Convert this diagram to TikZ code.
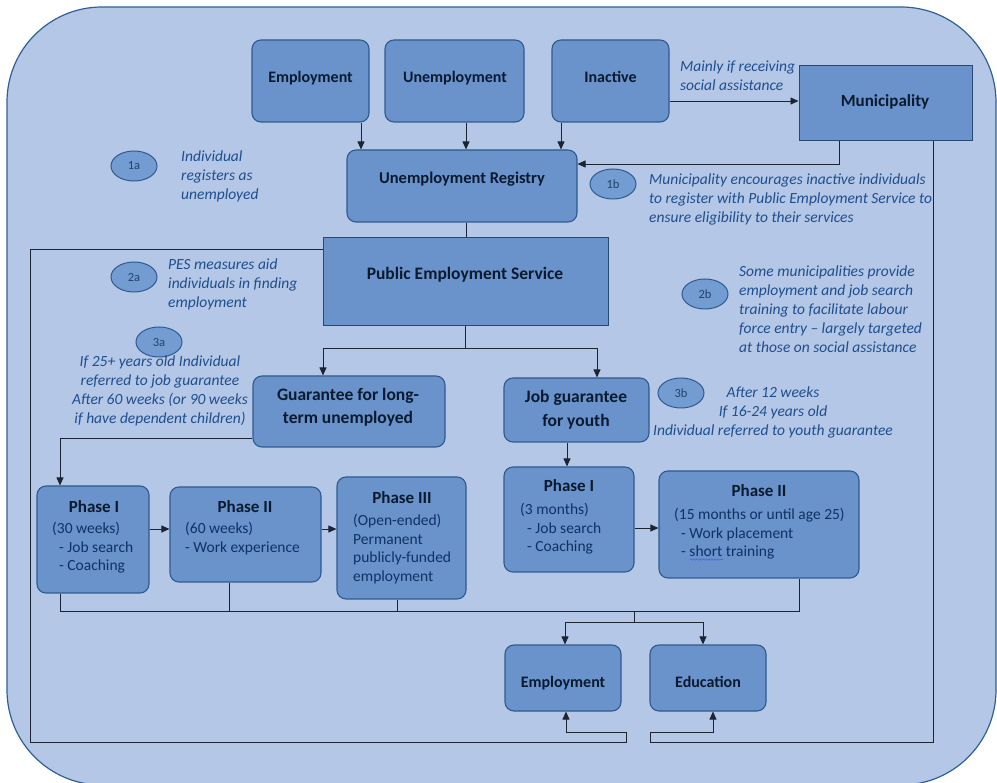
\documentclass[tikz,border=0pt]{standalone}
\usepackage{fontspec}
\setmainfont{Carlito}
\usetikzlibrary{arrows.meta,shapes.geometric,decorations.pathmorphing}
\definecolor{bgc}{HTML}{B4C7E7}
\definecolor{outc}{HTML}{2E6097}
\definecolor{boxc}{HTML}{6A93CB}
\definecolor{bordc}{HTML}{2F5A8E}
\definecolor{badgec}{HTML}{739CD3}
\definecolor{notec}{HTML}{1F4E8C}
\definecolor{bodyc}{HTML}{0F3266}
\definecolor{titlec}{HTML}{0A1A30}
\definecolor{linec}{HTML}{1C2433}
\begin{document}
\begin{tikzpicture}[x=1pt,y=-1pt,
  rbox/.style={draw=bordc, fill=boxc, line width=1.1pt, rounded corners=9pt, inner sep=0pt},
  sbox/.style={draw=bordc!80!black, fill=boxc, line width=1pt, inner sep=0pt},
  badge/.style={ellipse, draw=bordc, fill=badgec, line width=1pt, minimum width=46pt, minimum height=30pt, inner sep=0pt, font=\fontsize{12.5}{14}\selectfont, text=bordc!75!black},
  note/.style={inner sep=0pt, text=notec, font=\fontsize{15.5}{19}\selectfont\itshape},
  title/.style={inner sep=0pt, text=titlec, font=\fontsize{17}{23}\selectfont\bfseries, anchor=base},
  stitle/.style={title, font=\fontsize{16}{23}\selectfont\bfseries},
  btitle/.style={title, font=\fontsize{17.5}{23}\selectfont\bfseries},
  body/.style={inner sep=0pt, text=bodyc, font=\fontsize{15.5}{18.8}\selectfont, align=left, anchor=north west},
  conn/.style={draw=linec, line width=0.9pt},
  arr/.style={conn, -{Triangle[length=8pt,width=7pt]}}]
\useasboundingbox (0,0) rectangle (997,783);
\begin{scope}
\clip (0,0) rectangle (997,783);
\draw[fill=bgc, draw=outc, line width=1.2pt, rounded corners=95pt] (7,7) rectangle (996,785);
\end{scope}

% boxes
\node[rbox, minimum width=117pt, minimum height=82pt] (emp) at (310.5,81) {};
\node[rbox, minimum width=139pt, minimum height=82pt] (unemp) at (454.5,81) {};
\node[rbox, minimum width=117pt, minimum height=82pt] (inact) at (610.5,81) {};
\node[sbox, minimum width=173pt, minimum height=75pt] (muni) at (885.5,103.5) {};
\node[rbox, minimum width=230pt, minimum height=72pt] (reg) at (462,186) {};
\node[sbox, minimum width=285pt, minimum height=88pt] (pes) at (465.5,282) {};
\node[rbox, minimum width=192pt, minimum height=71pt] (glt) at (349,411.5) {};
\node[rbox, minimum width=145pt, minimum height=64pt] (jgy) at (576.5,410) {};
\node[rbox, minimum width=112pt, minimum height=107pt] (p1) at (93,539.5) {};
\node[rbox, minimum width=151pt, minimum height=95pt] (p2) at (245.5,534.5) {};
\node[rbox, minimum width=129pt, minimum height=122pt] (p3) at (401.5,538) {};
\node[rbox, minimum width=130pt, minimum height=105pt] (y1) at (569,519.5) {};
\node[rbox, minimum width=200pt, minimum height=107pt] (y2) at (759,524.5) {};
\node[rbox, minimum width=116pt, minimum height=66pt] (oemp) at (563,678) {};
\node[rbox, minimum width=116pt, minimum height=66pt] (oedu) at (708,678) {};

% titles
\node[stitle] (temp) at (310.5,83) {Employment};
\node[stitle] (tunemp) at (455,83) {Unemployment};
\node[stitle] (tinact) at (610.5,83) {Inactive};
\node[title] (tmuni) at (885,107) {Municipality};
\node[title, font=\fontsize{16.5}{23}\selectfont\bfseries] (treg) at (462,184) {Unemployment Registry};
\node[btitle] (tpes) at (465,280) {Public Employment Service};
\node[btitle] (tglt1) at (348,401) {Guarantee for long-};
\node[btitle] (tglt2) at (348,424) {term unemployed};
\node[btitle] (tjgy1) at (576,403) {Job guarantee};
\node[btitle] (tjgy2) at (576,427) {for youth};
\node[title] (tp1) at (94,513) {Phase I};
\node[title] (tp2) at (245,513) {Phase II};
\node[title] (tp3) at (402,504) {Phase III};
\node[title] (ty1) at (569,492) {Phase I};
\node[title] (ty2) at (759,497) {Phase II};
\node[stitle] (toemp) at (563,687) {Employment};
\node[stitle] (toedu) at (708,687) {Education};

% body texts
\node[body] (bp1) at (52,520) {\strut(30 weeks)\\\hspace*{7pt}- Job search\\\hspace*{7pt}- Coaching};
\node[body] (bp2) at (185,520) {\strut(60 weeks)\\- Work experience};
\node[body] (bp3) at (353,512) {\strut(Open-ended)\\Permanent\\publicly-funded\\employment};
\node[body] (by1) at (520,501) {\strut(3 months)\\\hspace*{7pt}- Job search\\\hspace*{7pt}- Coaching};
\node[body] (by2) at (674,506) {\strut(15 months or until age 25)\\\hspace*{7pt}- Work placement\\\hspace*{7pt}- short training};
\draw[decorate, decoration={snake, amplitude=0.7pt, segment length=3pt}, draw=blue!55!bgc, line width=0.6pt] (690,559.5) -- (723,559.5);

% badges
\node[badge] (b1a) at (134,166) {1a};
\node[badge] (b2a) at (134,277) {2a};
\node[badge] (b3a) at (159,342) {3a};
\node[badge] (b1b) at (613,184) {1b};
\node[badge] (b2b) at (705,294) {2b};
\node[badge] (b3b) at (681,393) {3b};

% notes
\node[note, anchor=north west, align=left] (n1a) at (181,148) {\strut Individual\\registers as\\unemployed};
\node[note, anchor=north west, align=left] (n2a) at (168,256) {\strut PES measures aid\\individuals in finding\\employment};
\node[note, anchor=north, align=center] (n3a) at (160,353) {\strut If 25+ years old Individual\\referred to job guarantee\\After 60 weeks (or 90 weeks\\if have dependent children)};
\node[note, anchor=north west, align=left] (n1b) at (649,171) {\strut Municipality encourages inactive individuals\\to register with Public Employment Service to\\ensure eligibility to their services};
\node[note, anchor=north west, align=left] (n2b) at (739,263) {\strut Some municipalities provide\\employment and job search\\training to facilitate labour\\force entry -- largely targeted\\at those on social assistance};
\node[note, anchor=north, align=center] (n3b) at (773,384) {\strut After 12 weeks\\If 16-24 years old\\Individual referred to youth guarantee};
\node[note, anchor=north west, align=left] (nmain) at (680,58) {\strut Mainly if receiving\\social assistance};

% connectors
\draw[arr] ([xshift=50.5pt]emp.south) -- ([xshift=50.5pt]emp.south |- reg.north);
\draw[arr] ([xshift=11.5pt]unemp.south) -- ([xshift=11.5pt]unemp.south |- reg.north);
\draw[arr] ([xshift=-49.5pt]inact.south) -- ([xshift=-49.5pt]inact.south |- reg.north);
\draw[arr] ([yshift=-20pt]inact.east) -- ([yshift=-20pt]inact.east -| muni.west);
\draw[arr] ([xshift=-46.5pt]muni.south) |- ([yshift=22pt]reg.east);
\draw[conn] ([xshift=4pt]reg.south) -- ([xshift=4pt]reg.south |- pes.north);
\draw[arr] (pes.south) -- ++(0,22) -| ([xshift=-26pt]glt.north);
\draw[arr] (pes.south) -- ++(0,22) -| ([xshift=20.5pt]jgy.north);
\draw[arr] ([yshift=-26.5pt]glt.west) -| ([xshift=-33pt]p1.north);
\draw[arr] ([yshift=10.5pt]p1.east) -- ([yshift=10.5pt]p1.east -| p2.west);
\draw[arr] ([yshift=5.5pt]p2.east) -- ([yshift=5.5pt]p2.east -| p3.west);
\draw[arr] ([xshift=-9.5pt]jgy.south) -- ([xshift=-9.5pt]jgy.south |- y1.north);
\draw[arr] ([yshift=-8.5pt]y1.east) -- ([yshift=-8.5pt]y1.east -| y2.west);
% collector
\draw[conn] ([xshift=-33pt]p1.south) -- (60,611) -- (799,611) -- ([xshift=40pt]y2.south);
\draw[conn] ([xshift=-16.5pt]p2.south) -- (229,611);
\draw[conn] ([xshift=-4.5pt]p3.south) -- (397,611);
\draw[arr] (634,611) -- (634,622) -| ([xshift=2pt]oemp.north);
\draw[arr] (634,622) -| ([xshift=-5pt]oedu.north);
% return loops
\draw[arr] ([yshift=33pt]pes.west) -- (30,249) -- (30,742) -- (626,742) -- (626,732) -- (566,732) -- ([xshift=3pt]oemp.south);
\draw[arr] ([xshift=47.5pt]muni.south) -- (933,742) -- (650,742) -- (650,732) -- (713,732) -- ([xshift=5pt]oedu.south);
\end{tikzpicture}
\end{document}
